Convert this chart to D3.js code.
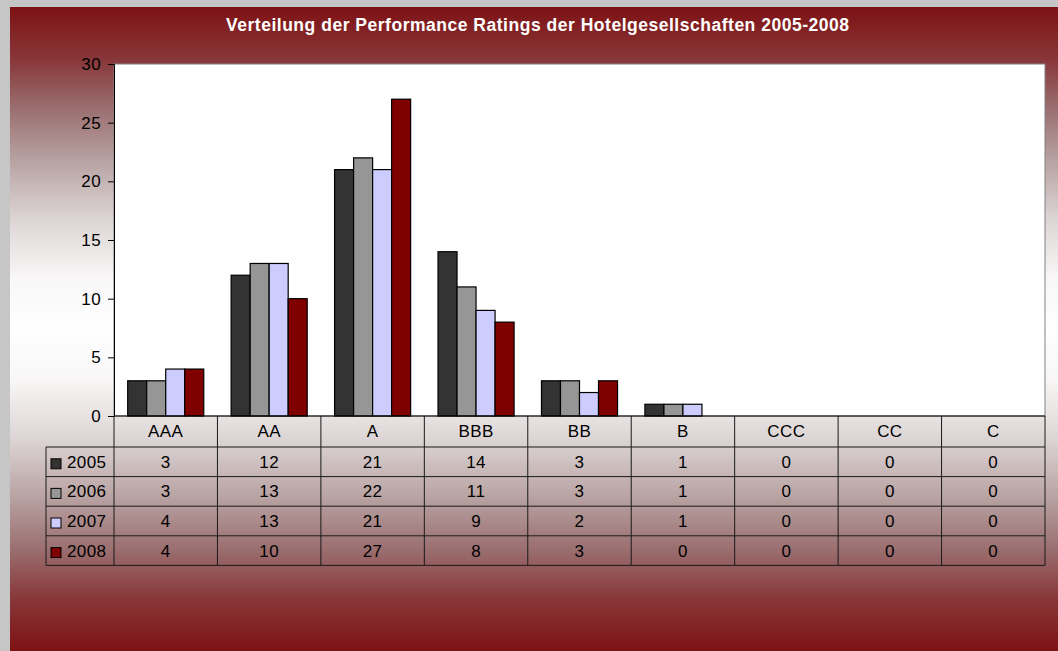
<!DOCTYPE html>
<html>
<head>
<meta charset="utf-8">
<script src="https://cdn.jsdelivr.net/npm/d3@7"></script>
<style>
  body { margin: 0; background: #fff; }
  svg { display: block; font-family: "Liberation Sans", Arial, sans-serif; }
</style>
</head>
<body>
<div id="chart"></div>
<script>
// chart data
const categories = ['AAA', 'AA', 'A', 'BBB', 'BB', 'B', 'CCC', 'CC', 'C'];
const years = ['2005', '2006', '2007', '2008'];
const values2005 = [3, 12, 21, 14, 3, 1, 0, 0, 0];
const values2006 = [3, 13, 22, 11, 3, 1, 0, 0, 0];
const values2007 = [4, 13, 21, 9, 2, 1, 0, 0, 0];
const values2008 = [4, 10, 27, 8, 3, 0, 0, 0, 0];
const yTicks = [0, 5, 10, 15, 20, 25, 30];
const title = 'Verteilung der Performance Ratings der Hotelgesellschaften 2005-2008';

const series = [
    {year: years[0], values: values2005, color: '#333333'},
    {year: years[1], values: values2006, color: '#969696'},
    {year: years[2], values: values2007, color: '#ccccff'},
    {year: years[3], values: values2008, color: '#800000'}
];

// layout
const width = 1058, height = 651;
const plot = {l: 114, t: 64, r: 1045, b: 416};
const table = {l: 46, headerH: 31, rowH: 29.6};
const fontSize = '17px';
const spacing = '0.4px';

const svg = d3.select('#chart').append('svg')
    .attr('width', width)
    .attr('height', height);

// background gradient (dark red -> white -> dark red)
const defs = svg.append('defs');
const grad = defs.append('linearGradient')
    .attr('id', 'bg')
    .attr('x1', 0).attr('y1', 0).attr('x2', 0).attr('y2', 1);
const stops = [[0, '#7e1214'], [0.08, '#883638'], [0.16, '#9b7071'], [0.24, '#b9a3a3'], [0.33, '#ddd5d5'], [0.42, '#f8f6f6'], [0.5, '#ffffff']];
stops.concat(stops.slice(0, -1).reverse().map(s => [1 - s[0], s[1]]))
    .forEach(s => grad.append('stop').attr('offset', s[0]).attr('stop-color', s[1]));

svg.append('rect')
    .attr('width', width).attr('height', height)
    .attr('fill', '#c6c6c6');
svg.append('rect')
    .attr('x', 10).attr('y', 7)
    .attr('width', width - 10).attr('height', height - 7)
    .attr('fill', 'url(#bg)');

// title
svg.append('text')
    .attr('x', 226).attr('y', 30.5)
    .attr('fill', '#ffffff')
    .attr('font-weight', 'bold')
    .attr('font-size', '17.5px')
    .attr('textLength', 623)
    .attr('lengthAdjust', 'spacing')
    .text(title);

// scales
const x0 = d3.scaleBand()
    .domain(categories)
    .range([plot.l, plot.r])
    .paddingInner(0).paddingOuter(0);

const x1 = d3.scaleBand()
    .domain(years)
    .range([0, x0.bandwidth()])
    .paddingInner(0).paddingOuter(0.72);

const y = d3.scaleLinear()
    .domain([0, 30])
    .range([plot.b, plot.t]);

// plot area
svg.append('rect')
    .attr('x', plot.l).attr('y', plot.t)
    .attr('width', plot.r - plot.l).attr('height', plot.b - plot.t)
    .attr('fill', '#ffffff')
    .attr('stroke', '#808080')
    .attr('stroke-width', 1);

// bars
const groups = svg.append('g').selectAll('g')
    .data(series)
    .enter()
    .append('g')
    .attr('fill', d => d.color);

groups.selectAll('rect')
    .data(d => d.values.map((v, i) => ({cat: categories[i], value: v, year: d.year})).filter(e => e.value > 0))
    .enter()
    .append('rect')
    .attr('x', d => x0(d.cat) + x1(d.year))
    .attr('y', d => y(d.value))
    .attr('width', x1.bandwidth())
    .attr('height', d => y(0) - y(d.value))
    .attr('stroke', '#000')
    .attr('stroke-width', 1.2);

// y axis
const yAxis = d3.axisLeft(y)
    .tickValues(yTicks)
    .tickSize(6)
    .tickPadding(7);

const yG = svg.append('g')
    .attr('transform', `translate(${plot.l},0)`)
    .call(yAxis);
yG.select('.domain').attr('stroke', '#000');
yG.selectAll('.tick line').attr('stroke', '#000');
yG.selectAll('.tick text')
    .attr('font-size', fontSize)
    .attr('letter-spacing', spacing)
    .attr('font-family', '"Liberation Sans", Arial, sans-serif')
    .attr('fill', '#000');

// data table
const tab = svg.append('g').attr('fill', 'none').attr('stroke', '#1a1a1a').attr('stroke-width', 1);
const headTop = plot.b;
const headBot = plot.b + table.headerH;
const tabBot = headBot + table.rowH * series.length;

// vertical lines
categories.forEach(c => {
    tab.append('line')
        .attr('x1', x0(c)).attr('x2', x0(c))
        .attr('y1', headTop).attr('y2', tabBot);
});
tab.append('line')
    .attr('x1', plot.r).attr('x2', plot.r)
    .attr('y1', headTop).attr('y2', tabBot);
tab.append('line')
    .attr('x1', table.l).attr('x2', table.l)
    .attr('y1', headBot).attr('y2', tabBot);
// horizontal lines
d3.range(series.length + 1).forEach(i => {
    tab.append('line')
        .attr('x1', table.l).attr('x2', plot.r)
        .attr('y1', headBot + i * table.rowH).attr('y2', headBot + i * table.rowH);
});
// baseline
svg.append('line')
    .attr('x1', plot.l).attr('x2', plot.r)
    .attr('y1', plot.b).attr('y2', plot.b)
    .attr('stroke', '#000');

// category labels
svg.append('g').selectAll('text')
    .data(categories)
    .enter()
    .append('text')
    .attr('x', d => x0(d) + x0.bandwidth() / 2)
    .attr('y', headTop + table.headerH / 2 + 5.5)
    .attr('text-anchor', 'middle')
    .attr('font-size', fontSize)
    .attr('letter-spacing', spacing)
    .text(d => d);

// rows
const rows = svg.append('g').selectAll('g')
    .data(series)
    .enter()
    .append('g')
    .attr('transform', (d, i) => `translate(0,${headBot + i * table.rowH})`);

rows.append('rect')
    .attr('x', 51).attr('y', table.rowH / 2 - 3)
    .attr('width', 10).attr('height', 10)
    .attr('fill', d => d.color)
    .attr('stroke', '#000');

rows.append('text')
    .attr('x', 67)
    .attr('y', table.rowH / 2 + 6)
    .attr('font-size', fontSize)
    .attr('letter-spacing', spacing)
    .text(d => d.year);

rows.selectAll('.val')
    .data(d => d.values.map((v, i) => ({cat: categories[i], value: v})))
    .enter()
    .append('text')
    .classed('val', true)
    .attr('x', d => x0(d.cat) + x0.bandwidth() / 2)
    .attr('y', table.rowH / 2 + 6)
    .attr('text-anchor', 'middle')
    .attr('font-size', fontSize)
    .attr('letter-spacing', spacing)
    .text(d => d.value);
</script>
</body>
</html>
